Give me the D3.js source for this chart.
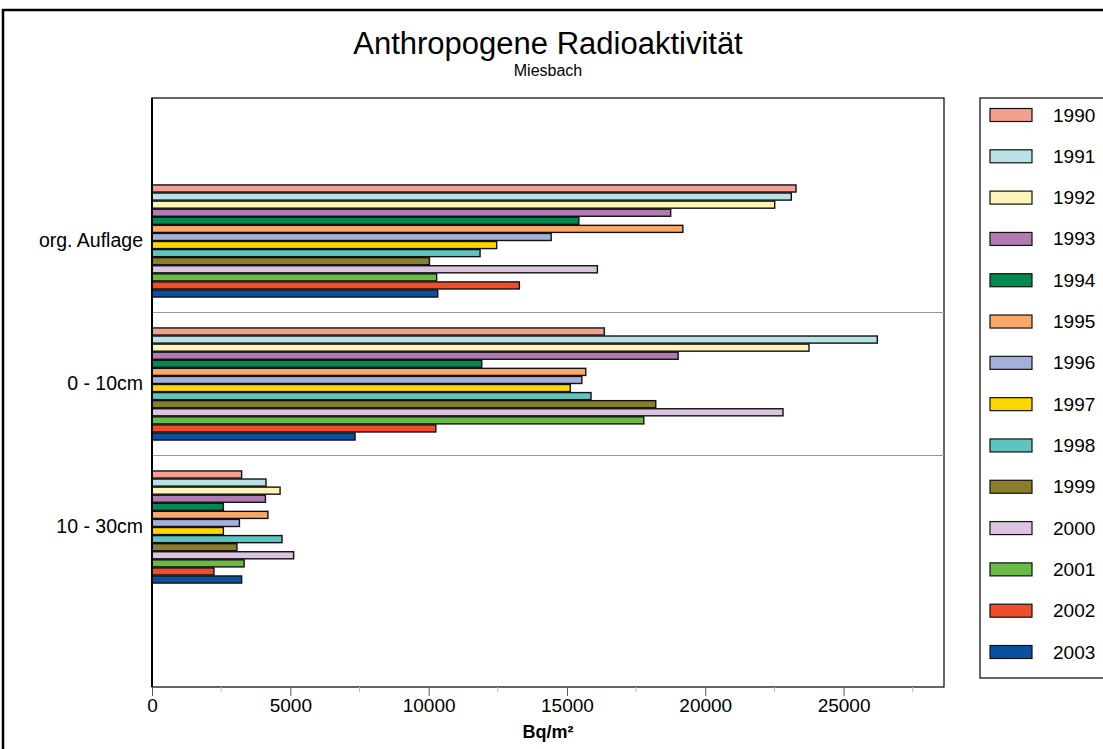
<!DOCTYPE html>
<html>
<head>
<meta charset="utf-8">
<script src="https://cdn.jsdelivr.net/npm/d3@7"></script>
<style>
body { margin: 0; background: #fff; }
text { font-family: "Liberation Sans", Arial, sans-serif; }
</style>
</head>
<body>
<div id="chart"></div>
<script>
var categories = ["org. Auflage", "0 - 10cm", "10 - 30cm"];
var years = ["1990","1991","1992","1993","1994","1995","1996","1997","1998","1999","2000","2001","2002","2003"];
var colors = ["#F4A08E","#B8E2E6","#FFF4B8","#B07AB2","#008A50","#F9A86A","#A4B0DA","#FFD700","#5EC4C0","#8A7E2A","#DCC4E0","#6ABB45","#F04E2A","#0A50A0"];
var orgAuflage = [23280, 23110, 22510, 18750, 15430, 19190, 14430, 12460, 11860, 10030, 16100, 10290, 13280, 10330];
var cm0_10 = [16350, 26220, 23750, 19020, 11920, 15680, 15540, 15120, 15870, 18210, 22810, 17780, 10260, 7340];
var cm10_30 = [3240, 4120, 4630, 4100, 2580, 4190, 3160, 2580, 4700, 3070, 5120, 3330, 2240, 3240];
var xTicks = [0, 5000, 10000, 15000, 20000, 25000];
var xMax = 28630;

var values = [orgAuflage, cm0_10, cm10_30];
var data = [];
categories.forEach(function (c, i) {
	years.forEach(function (y, j) {
		data.push({cat: c, year: y, value: values[i][j], color: colors[j]});
	});
});

var W = 1103, H = 749;
var plot = {left: 152, top: 98, right: 944, bottom: 687};

var svg = d3.select("#chart")
.append("svg")
.attr("width", W)
.attr("height", H);

// outer frame
svg.append("rect")
.attr("x", 3).attr("y", 10)
.attr("width", W + 10).attr("height", H + 10)
.attr("fill", "none")
.attr("stroke", "#000")
.attr("stroke-width", 2.5);

svg.append("text")
.attr("x", 548).attr("y", 54)
.attr("text-anchor", "middle")
.style("font-size", "31px")
.text("Anthropogene Radioaktivität");

svg.append("text")
.attr("x", 548).attr("y", 76)
.attr("text-anchor", "middle")
.style("font-size", "16px")
.text("Miesbach");

var xScale = d3.scaleLinear()
.domain([0, xMax])
.range([plot.left, plot.right]);

var yScale = d3.scaleBand()
.domain(categories)
.range([169.5, 598.5]);

var inner = d3.scaleBand()
.domain(years)
.range([0, yScale.bandwidth()])
.paddingOuter(1.85)
.paddingInner(0);

// plot frame
svg.append("rect")
.attr("x", plot.left).attr("y", plot.top)
.attr("width", plot.right - plot.left).attr("height", plot.bottom - plot.top)
.attr("fill", "none")
.attr("stroke", "#000")
.attr("stroke-width", 1.2);

// category separators
svg.append("g")
.selectAll("line")
.data(categories.slice(1))
.enter()
.append("line")
.attr("x1", plot.left).attr("x2", plot.right)
.attr("y1", function (d) { return yScale(d); })
.attr("y2", function (d) { return yScale(d); })
.attr("stroke", "#999")
.attr("stroke-width", 1);

// bars
svg.append("g")
.selectAll("rect")
.data(data)
.enter()
.append("rect")
.attr("x", xScale(0))
.attr("y", function (d) { return yScale(d.cat) + inner(d.year) + 0.5; })
.attr("width", function (d) { return xScale(d.value) - xScale(0); })
.attr("height", inner.bandwidth() - 1)
.attr("fill", function (d) { return d.color; })
.attr("stroke", "#111")
.attr("stroke-width", 1.4);

// left axis line
svg.append("line")
.attr("x1", plot.left).attr("x2", plot.left)
.attr("y1", plot.top).attr("y2", plot.bottom)
.attr("stroke", "#000").attr("stroke-width", 2);

// category labels
svg.append("g")
.selectAll("text")
.data(categories)
.enter()
.append("text")
.attr("x", 143)
.attr("y", function (d) { return yScale(d) + yScale.bandwidth() / 2 + 6; })
.attr("text-anchor", "end")
.style("font-size", "19.5px")
.text(function (d) { return d; });

// x axis
var xAxis = svg.append("g")
.attr("transform", "translate(0," + plot.bottom + ")")
.call(d3.axisBottom(xScale).tickValues(xTicks).tickSize(9).tickPadding(3).tickFormat(d3.format("d")));
xAxis.select(".domain").remove();
xAxis.selectAll("line").attr("stroke", "#555");
xAxis.selectAll("text").style("font-size", "19px").attr("fill", "#000")
.style("font-family", "Liberation Sans, Arial, sans-serif");

svg.append("g")
.selectAll("line")
.data(d3.range(2500, xMax, 5000))
.enter()
.append("line")
.attr("x1", function (d) { return xScale(d); })
.attr("x2", function (d) { return xScale(d); })
.attr("y1", plot.bottom).attr("y2", plot.bottom + 5)
.attr("stroke", "#bbb");

svg.append("text")
.attr("x", 548).attr("y", 738)
.attr("text-anchor", "middle")
.style("font-size", "18px")
.style("font-weight", "bold")
.text("Bq/m²");

// legend
svg.append("rect")
.attr("x", 980).attr("y", 98)
.attr("width", 140).attr("height", 580)
.attr("fill", "none")
.attr("stroke", "#000")
.attr("stroke-width", 1.2);

var legendY = d3.scalePoint()
.domain(years)
.range([115, 652]);

var leg = svg.append("g")
.selectAll("g")
.data(years)
.enter()
.append("g")
.attr("transform", function (d) { return "translate(990," + legendY(d) + ")"; });

leg.append("rect")
.attr("x", 0).attr("y", -6.5)
.attr("width", 42).attr("height", 13)
.attr("fill", function (d, i) { return colors[i]; })
.attr("stroke", "#111")
.attr("stroke-width", 1.2);

leg.append("text")
.attr("x", 63).attr("y", 6.5)
.style("font-size", "19px")
.text(function (d) { return d; });
</script>
</body>
</html>
